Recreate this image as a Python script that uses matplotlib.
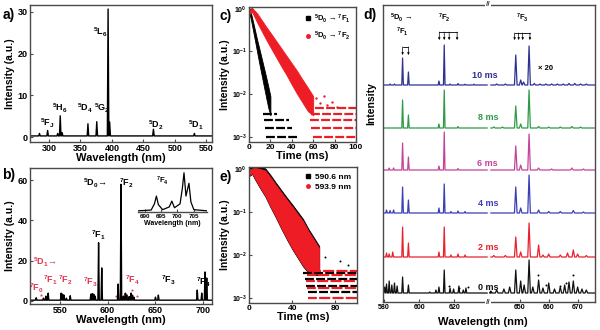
import matplotlib
matplotlib.use("Agg")
import matplotlib.pyplot as plt
import numpy as np

plt.rcParams["font.family"] = ["Liberation Sans", "DejaVu Sans"]
plt.rcParams["font.weight"] = "bold"
plt.rcParams["axes.labelweight"] = "bold"
plt.rcParams["mathtext.fontset"] = "custom"
plt.rcParams["mathtext.rm"] = "Liberation Sans:bold"
plt.rcParams["mathtext.it"] = "Liberation Sans:bold"
plt.rcParams["mathtext.bf"] = "Liberation Sans:bold"
plt.rcParams["mathtext.default"] = "regular"

RED = "#ee1c25"
LBL_RED = "#e0334f"
SPINE = "#4a4a4a"

# ---- a) excitation spectrum (peak position nm, height) ----
a_base = 0.35
a_peak_nm = [285, 298, 314, 318, 321, 362, 376, 394, 396.5, 466, 531]
a_peak_h = [0.6, 1.3, 0.6, 4.8, 0.8, 2.9, 3.4, 30.3, 3.3, 1.6, 0.6]
a_labels = ["$^5$F$_J$", "$^5$H$_6$", "$^5$D$_4$", "$^5$G$_2$", "$^5$L$_6$", "$^5$D$_2$", "$^5$D$_1$"]
a_label_nm = [297, 317, 357, 385, 382, 470, 533]
a_label_y = [3.4, 7.0, 7.0, 7.0, 25.0, 2.9, 2.9]

# ---- b) emission spectrum ----
b_base = 0.4
b_peak_nm = [525.5, 533, 535.5, 538, 551.5, 553, 554.5, 557, 561, 582.5, 584, 585.5, 587,
             590.6, 593.9, 611, 614, 616.5, 618.5, 620, 622.5, 624.5, 626, 627.5,
             650, 653, 693.6, 698.3, 701.7, 703.5]
b_peak_h = [1.2, 1.0, 2.0, 3.5, 3.5, 3.0, 2.5, 1.0, 2.2, 3.0, 3.2, 3.0, 2.0,
            28.5, 16.0, 8.0, 57.5, 2.0, 3.5, 2.5, 1.8, 3.5, 2.5, 1.5,
            1.5, 2.5, 5.0, 3.5, 14.0, 11.0]
b_star_nm = [530, 609, 619.6, 625, 631]
b_star_y = [3.0, 2.5, 3.5, 5.5, 2.5]
b_red_labels = ["$^5$D$_1$→", "$^7$F$_0$", "$^7$F$_1$", "$^7$F$_2$", "$^7$F$_3$", "$^7$F$_4$"]
b_red_nm = [534, 526, 540, 556, 582, 626]
b_red_y = [19.3, 6.0, 10.4, 10.4, 9.4, 10.4]
b_blk_labels = ["$^5$D$_0$→", "$^7$F$_2$", "$^7$F$_1$", "$^7$F$_3$", "$^7$F$_4$"]
b_blk_nm = [587, 620, 590, 663, 700]
b_blk_y = [58.5, 58.5, 32.7, 10.4, 9.4]

inset_nm = [688, 692, 693, 693.6, 694.2, 695.5, 697.5, 698.3, 699.1, 700.8, 701.5, 702,
            702.6, 703, 703.5, 704.1, 705, 709]
inset_int = [0.02, 0.04, 0.2, 0.4, 0.18, 0.05, 0.12, 0.27, 0.1, 0.2, 0.6, 1.0,
             0.4, 0.55, 0.73, 0.25, 0.05, 0.02]

# ---- c) decay curves: band edges (log10) and quantised floor ----
c_k_t = [0, 2, 4, 6, 8, 10, 12, 14, 16, 18, 20]
c_k_up = [0, -0.12, -0.33, -0.55, -0.77, -0.97, -1.18, -1.39, -1.6, -1.82, -2.05]
c_k_lo = [-0.05, -0.28, -0.54, -0.8, -1.07, -1.33, -1.58, -1.83, -2.08, -2.32, -2.5]
c_k_floor = [-2.46, -2.62, -2.8, -3.0]
c_k_floor_t0 = [13, 14, 15, 16]
c_k_floor_t1 = [26, 37, 40, 45]

c_r_t = [0, 3, 8, 12, 16, 20, 25, 30, 35, 40, 45, 50, 55, 60]
c_r_up = [0.0, 0.02, -0.12, -0.27, -0.42, -0.56, -0.74, -0.92, -1.1, -1.28, -1.46, -1.66, -1.85, -2.05]
c_r_lo = [-0.12, -0.08, -0.34, -0.53, -0.72, -0.9, -1.12, -1.34, -1.55, -1.78, -2.0, -2.2, -2.4, -2.5]
c_r_floor = [-2.33, -2.47, -2.62, -2.8, -3.0]
c_r_floor_t0 = [62, 58, 57, 58, 60]
c_r_floor_t1 = [100, 100, 100, 100, 100]
c_r_out_t = [55, 58, 63, 66, 70, 73, 78, 82]
c_r_out_y = [-2.0, -2.15, -2.1, -2.2, -2.05, -2.25, -2.18, -2.3]

# ---- e) decay curves ----
e_t = [0, 3, 5, 10, 15, 20, 25, 30, 35, 40, 45, 50, 55, 60, 65]
e_up = [-0.02, 0.01, 0.02, 0.0, -0.04, -0.2, -0.38, -0.55, -0.72, -0.88, -1.05, -1.22, -1.45, -1.65, -1.85]
e_lo = [-0.15, -0.1, -0.2, -0.42, -0.62, -0.88, -1.12, -1.38, -1.62, -1.85, -2.05, -2.25, -2.4, -2.45, -2.45]
e_k_floor = [-2.42, -2.56, -2.72, -2.88]
e_k_floor_t0 = [50, 52, 53, 55]
e_r_floor = [-2.38, -2.48, -2.62, -2.78, -3.0]
e_r_floor_t0 = [58, 54, 53, 54, 55]
e_k_out_t = [46, 52, 60, 70, 84, 92]
e_k_out_y = [-1.1, -1.4, -1.75, -2.05, -2.15, -2.25]

# ---- d) time-resolved spectra, px offsets ----
d_times = ["10 ms", "8 ms", "6 ms", "4 ms", "2 ms", "0 ms"]
d_colors = ["#2e3192", "#2f9a48", "#c2449b", "#3b3fb5", "#e8212e", "#111111"]
d_base = [217, 174, 132, 89, 45, 9]
d_label_dy = [10, 10, 7, 10, 9, 5]
d_left_nm = [
    [583.5, 586, 590.6, 593.9, 611.2, 614.2, 617.5, 622, 626, 631],
    [590.6, 593.9, 611.2, 614.2, 622],
    [583, 585.5, 590.6, 593.9, 611.2, 614.2, 622],
    [581.5, 583.5, 585.5, 590.6, 593.9, 611.2, 614.2, 618, 622, 626],
    [581.5, 583, 585, 590.6, 593.9, 611.2, 614.2, 618, 622, 626],
    [580.5, 581.5, 583, 584.5, 586, 587.5, 590.6, 593.9, 606, 609.5, 611.2, 614.2,
     617.5, 619.5, 622.5, 625, 626.5],
]
d_left_h = [
    [1, 1, 27, 13, 4, 40, 1, 1.5, 0.8, 0.8],
    [28, 13, 4, 38, 1.5],
    [2, 2, 27, 13, 4, 38, 1.5],
    [3, 2.5, 3, 26, 13, 5, 29, 1.5, 2, 1.5],
    [4, 3, 5, 30, 14, 5, 30, 2, 3, 2],
    [6, 9, 12, 8, 10, 7, 16, 8, 1, 3, 6, 23, 5, 4, 7, 3, 5],
]
d_right_nm = [
    [642, 645, 648.6, 650.3, 651.3, 653.2, 655, 657, 659, 661, 663, 665, 667, 669, 671, 673],
    [641, 644, 648.6, 650.3, 653.2, 656.5, 660, 664, 668, 671],
    [648.6, 650.3, 653.2, 656.5, 661, 668, 672],
    [648.6, 650.3, 653.2, 656.5, 660, 664, 668.5, 672],
    [641, 645, 648.6, 650.3, 653.2, 656.5, 658, 660, 664, 666.5, 668.5, 670, 673],
    [640, 642, 644.5, 646.5, 648.6, 650.3, 651.5, 653.2, 654.5, 656.5, 658, 660, 662,
     664, 665.5, 667, 668.5, 670, 671.5, 673],
]
d_right_h = [
    [1, 1, 30, 5, 3, 39, 1.5, 1, 1, 1, 1, 1, 1.5, 1.5, 1, 1],
    [1, 1, 22, 4, 38, 1.5, 1, 1, 1.5, 1],
    [24, 5, 36, 2, 1, 2, 1],
    [26, 5, 38, 3, 1.5, 1.5, 2.5, 1],
    [1.5, 1.5, 20, 5, 34, 12, 2, 3, 2, 4, 7, 3, 1.5],
    [2, 3, 4, 6, 23, 12, 8, 33, 6, 13, 5, 10, 4, 6, 8, 11, 12, 6, 4, 3],
]
d_dot_nm = [617, 622.6, 627.7, 656.3, 659.2, 664, 666.1, 668.5]
d_dot_y = [16, 14, 15, 27, 17, 16, 19, 27]


def peaks_line(x0, x1, base, pos, hts, w):
    xs, ys = [x0], [base]
    for p, h in sorted(zip(pos, hts)):
        xs += [p - w, p, p + w]
        ys += [base, base + h, base]
    xs.append(x1)
    ys.append(base)
    return xs, ys


def style(ax, size=6.5):
    for s in ax.spines.values():
        s.set_color(SPINE)
        s.set_linewidth(1.0)
    ax.tick_params(direction="in", length=2.5, width=0.8, labelsize=size, pad=1.5,
                   color=SPINE)


fig = plt.figure(figsize=(6, 3.3), dpi=100)


def px_axes(x0, y0, x1, y1):
    return fig.add_axes([x0 / 600, 1 - y1 / 330, (x1 - x0) / 600, (y1 - y0) / 330])


# a)
ax = px_axes(30, 5, 212, 142)
xs, ys = peaks_line(270, 559, a_base, a_peak_nm, a_peak_h, 1.2)
ax.plot(xs, ys, color="black", lw=1.0)
ax.set_xlim(270, 559)
ax.set_ylim(-1.1, 31.6)
ax.set_xticks([300, 350, 400, 450, 500, 550])
ax.set_yticks([0, 10, 20, 30])
style(ax)
for t, x, y in zip(a_labels, a_label_nm, a_label_y):
    ax.text(x, y, t, fontsize=6.5, ha="center", va="center")
ax.set_xlabel("Wavelength (nm)", fontsize=8, labelpad=0)
ax.set_ylabel("Intensity (a.u.)", fontsize=7.5, labelpad=2)
fig.text(9 / 600, 1 - 15 / 330, "a)", fontsize=10, fontweight="bold", ha="center", va="center")

# b)
ax = px_axes(30, 168, 212, 304)
xs, ys = peaks_line(519, 709, b_base, b_peak_nm, b_peak_h, 0.7)
ax.plot(xs, ys, color="black", lw=1.0)
ax.scatter(b_star_nm, b_star_y, marker="*", s=6, color=LBL_RED, lw=0)
ax.set_xlim(519, 709)
ax.set_ylim(-1.5, 66)
ax.set_xticks([550, 600, 650, 700])
ax.set_yticks([0, 20, 40, 60])
style(ax)
for t, x, y in zip(b_red_labels, b_red_nm, b_red_y):
    ax.text(x, y, t, fontsize=6.5, ha="center", va="center", color=LBL_RED)
for t, x, y in zip(b_blk_labels, b_blk_nm, b_blk_y):
    ax.text(x, y, t, fontsize=6.5, ha="center", va="center")
ax.set_xlabel("Wavelength (nm)", fontsize=8, labelpad=0)
ax.set_ylabel("Intensity (a.u.)", fontsize=7.5, labelpad=2)
fig.text(9 / 600, 1 - 175 / 330, "b)", fontsize=10, fontweight="bold", ha="center", va="center")

ins = px_axes(138, 172, 207, 212)
ins.plot(inset_nm, inset_int, color="black", lw=0.9)
ins.set_xlim(688, 709)
ins.set_ylim(-0.01, 1.02)
ins.set_xticks([690, 695, 700, 705])
ins.set_yticks([])
for s in ["left", "right", "top"]:
    ins.spines[s].set_visible(False)
style(ins, 4.5)
ins.patch.set_alpha(0)
ins.text(695.6, 0.8, "$^7$F$_4$", fontsize=5.5, ha="center", va="center")
ins.set_xlabel("Wavelength (nm)", fontsize=5, labelpad=0.5)

# c)
ax = px_axes(249, 7, 356, 142)
ax.set_yscale("log")
ax.fill_between(c_k_t, 10 ** np.array(c_k_lo), 10 ** np.array(c_k_up), color="black", lw=0.6,
                edgecolor="black")
ax.hlines(10 ** np.array(c_k_floor), c_k_floor_t0, c_k_floor_t1, color="black", lw=1.6,
          linestyles=(0, (4, 1)))
ax.fill_between(c_r_t, 10 ** np.array(c_r_lo), 10 ** np.array(c_r_up), color=RED, lw=0.6,
                edgecolor=RED)
ax.hlines(10 ** np.array(c_r_floor), c_r_floor_t0, c_r_floor_t1, color=RED, lw=1.6,
          linestyles=(0, (4, 1)))
ax.scatter(c_r_out_t, 10 ** np.array(c_r_out_y), s=3, color=RED, lw=0)
ax.plot([], [], "s", color="black", ms=2.5, label="$^5$D$_0$ → $^7$F$_1$")
ax.plot([], [], "o", color=RED, ms=2.5, label="$^5$D$_0$ → $^7$F$_2$")
ax.legend(loc="upper right", fontsize=5.5, frameon=False, handlelength=0.8,
          handletextpad=0.4, borderaxespad=0.3, labelspacing=0.6)
ax.set_xlim(0, 100)
ax.set_ylim(7.5e-4, 1.1)
ax.set_xticks([0, 20, 40, 60, 80, 100])
ax.set_yticks([1e-3, 1e-2, 1e-1, 1])
ax.minorticks_off()
style(ax, 6)
ax.tick_params(axis="y", labelsize=5)
ax.set_xlabel("Time (ms)", fontsize=8, labelpad=0)
ax.set_ylabel("Intensity (a.u.)", fontsize=7.5, labelpad=1)
fig.text(226 / 600, 1 - 16 / 330, "c)", fontsize=10, fontweight="bold", ha="center", va="center")

# e)
ax = px_axes(249, 167, 357, 303)
ax.set_yscale("log")
ax.fill_between(e_t, 10 ** (np.array(e_lo) - 0.02), 10 ** (np.array(e_up) + 0.05), color="black",
                lw=0.6, edgecolor="black")
ax.scatter(e_k_out_t, 10 ** np.array(e_k_out_y), s=2, color="black", lw=0)
ax.hlines(10 ** np.array(e_k_floor), e_k_floor_t0, 100, color="black", lw=1.6,
          linestyles=(0, (4, 1)))
ax.fill_between(e_t, 10 ** np.array(e_lo), 10 ** np.array(e_up), color=RED, lw=0.6, edgecolor=RED)
ax.hlines(10 ** np.array(e_r_floor), e_r_floor_t0, 100, color=RED, lw=1.6,
          linestyles=(1, (5, 1)))
ax.plot([], [], "s", color="black", ms=2.5, label="590.6 nm")
ax.plot([], [], "o", color=RED, ms=2.5, label="593.9 nm")
ax.legend(loc="upper right", fontsize=6, frameon=False, handlelength=0.8,
          handletextpad=0.4, borderaxespad=0.3, labelspacing=0.3)
ax.set_xlim(0, 100)
ax.set_ylim(7.5e-4, 1.1)
ax.set_xticks([0, 40, 80])
ax.set_yticks([1e-3, 1e-2, 1e-1, 1])
ax.minorticks_off()
style(ax, 6)
ax.tick_params(axis="y", labelsize=5)
ax.set_xlabel("Time (ms)", fontsize=8, labelpad=0)
ax.set_ylabel("Intensity (a.u.)", fontsize=7.5, labelpad=1)
fig.text(226 / 600, 1 - 177 / 330, "e)", fontsize=10, fontweight="bold", ha="center", va="center")

# d) broken x axis
axl = px_axes(383, 5, 488, 302)
axr = px_axes(488, 5, 595, 302)
for i in range(len(d_times)):
    xs, ys = peaks_line(579.5, 638.5, d_base[i], d_left_nm[i], d_left_h[i], 0.45)
    axl.plot(xs, ys, color=d_colors[i], lw=0.9)
    xs, ys = peaks_line(640, 676, d_base[i], d_right_nm[i], d_right_h[i], 0.45)
    axr.plot(xs, ys, color=d_colors[i], lw=0.9)
    axr.text(642.5, d_base[i] + d_label_dy[i], d_times[i], color=d_colors[i], fontsize=6.5,
             ha="right", va="center")
axl.scatter(d_dot_nm[:3], d_dot_y[:3], s=2, color="black", lw=0)
axr.scatter(d_dot_nm[3:], d_dot_y[3:], s=2, color="black", lw=0)
axl.set_xlim(579.5, 639)
axr.set_xlim(639, 676)
for a in (axl, axr):
    a.set_ylim(0, 297)
    a.set_yticks([])
    style(a, 5)
axl.spines["right"].set_visible(False)
axr.spines["left"].set_visible(False)
axl.set_xticks([580, 600, 620])
axr.set_xticks([650, 660, 670])
for yy in (0, 1):
    axr.text(0, yy, "//", transform=axr.transAxes, ha="center", va="center", fontsize=6,
             color=SPINE, bbox=dict(facecolor="white", edgecolor="none", pad=0.2))
axl.set_ylabel("Intensity", fontsize=7.5)
axl.yaxis.set_label_coords(-0.06, 0.667)
fig.text(483 / 600, 1 - 322 / 330, "Wavelength (nm)", fontsize=8, fontweight="bold",
         ha="center", va="center")
fig.text(370 / 600, 1 - 15 / 330, "d)", fontsize=10, fontweight="bold", ha="center", va="center")

# transition annotations on top of d)
axl.text(590, 284, "$^5$D$_0$ →", fontsize=5.5, ha="center", va="center")
axl.text(590.5, 270, "$^7$F$_1$", fontsize=5.5, ha="center", va="center")
axl.text(614.2, 284, "$^7$F$_2$", fontsize=5.5, ha="center", va="center")
axr.text(650.8, 284, "$^7$F$_3$", fontsize=5.5, ha="center", va="center")
axr.text(656.3, 234, "× 20", fontsize=5.5, ha="left", va="center")
brackets = [(axl, [590.6, 593.9], 255, 247), (axl, [611.4, 614.2, 617, 621.5], 270, 262),
            (axr, [648.2, 649.6, 651, 653.5], 269, 262)]
for a, xs_b, ytop, ybot in brackets:
    a.plot([xs_b[0], xs_b[-1]], [ytop, ytop], color="black", lw=0.6)
    for xb in xs_b:
        a.annotate("", xy=(xb, ybot), xytext=(xb, ytop),
                   arrowprops=dict(arrowstyle="-|>", lw=0.5, color="black",
                                   mutation_scale=3, shrinkA=0, shrinkB=0))

fig.savefig("out.png", dpi=100)
